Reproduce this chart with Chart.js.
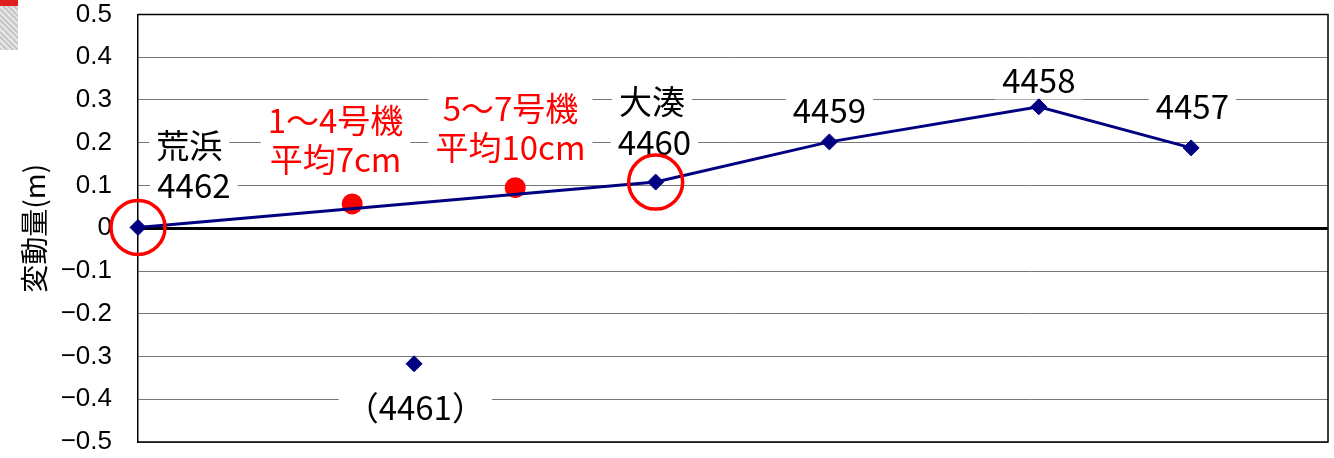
<!DOCTYPE html>
<html>
<head>
<meta charset="utf-8">
<script src="https://cdn.jsdelivr.net/npm/chart.js@4/dist/chart.umd.min.js"></script>
<style>
  body { margin: 0; background: #fff; }
  #wrap { position: relative; width: 1334px; height: 458px; }
  #scrap { position: absolute; left: 0; top: 0; width: 18px; height: 50px;
           background: repeating-linear-gradient(45deg, #c8c8c8 0 2px, #e6e6e6 2px 4px);
           border-top: 6px solid #e02020; box-sizing: border-box; }
</style>
</head>
<body>
<div id="wrap">
  <canvas id="chart" width="1334" height="458"></canvas>
  <div id="scrap"></div>
</div>
<script>
// distance along the survey line (chart units, 0 = 荒浜)
const stations = ['4462', '4460', '4459', '4458', '4457'];
const stationX = [0, 43.5, 58.1, 75.7, 88.5];
const stationY = [0.002, 0.108, 0.202, 0.284, 0.188];

// 4461 is plotted on its own (not on the line)
const outlierX = [23.2];
const outlierY = [-0.317];

// reactor averages (red dots)
const reactorX = [18.0, 31.7];
const reactorY = [0.057, 0.095];

// circled stations: 荒浜 (4462) and 大湊 (4460)
const circleX = [0, 43.5];
const circleY = [0.002, 0.108];

const yTicks = [0.5, 0.4, 0.3, 0.2, 0.1, 0, -0.1, -0.2, -0.3, -0.4, -0.5];

// text labels: [lines, x, y, colour]
const labels = [
  [['荒浜'], 4.3, 0.195, '#000'],
  [['4462'], 4.7, 0.102, '#000'],
  [['1～4号機', '平均7cm'], 16.6, 0.208, '#ff0000'],
  [['5～7号機', '平均10cm'], 31.3, 0.237, '#ff0000'],
  [['大湊'], 43.2, 0.298, '#000'],
  [['4460'], 43.4, 0.202, '#000'],
  [['4459'], 58.1, 0.277, '#000'],
  [['4458'], 75.7, 0.347, '#000'],
  [['4457'], 88.6, 0.287, '#000'],
  [['（4461）'], 23.3, -0.417, '#000']
];

const pts = (xs, ys) => xs.map((x, i) => ({ x: x, y: ys[i] }));

const labelFont = '33px "Noto Sans CJK JP"';
const labelPlugin = {
  id: 'labelBoxes',
  beforeDatasetsDraw(chart) {
    const { ctx, scales: { x, y } } = chart;
    ctx.save();
    ctx.font = labelFont;
    ctx.textAlign = 'center';
    ctx.textBaseline = 'middle';
    labels.forEach(([lines, lx, ly, color]) => {
      const cx = x.getPixelForValue(lx);
      const cy = y.getPixelForValue(ly);
      const lh = 39;
      const w = Math.max(...lines.map(t => ctx.measureText(t).width)) + 14;
      const h = lines.length * lh;
      ctx.fillStyle = '#fff';
      ctx.fillRect(cx - w / 2, cy - h / 2, w, h);
      ctx.fillStyle = color;
      lines.forEach((t, i) => {
        ctx.fillText(t, cx, cy - h / 2 + lh / 2 + i * lh + 1);
      });
    });
    ctx.restore();
  },
  afterDraw(chart) {
    const { ctx, chartArea: a } = chart;
    ctx.save();
    ctx.strokeStyle = '#000';
    ctx.lineWidth = 1.5;
    ctx.beginPath();
    ctx.moveTo(a.left, a.top);
    ctx.lineTo(a.right, a.top);
    ctx.lineTo(a.right, a.bottom);
    ctx.lineTo(a.left, a.bottom);
    ctx.stroke();
    ctx.restore();
  }
};

new Chart(document.getElementById('chart'), {
  type: 'scatter',
  data: {
    datasets: [
      {
        data: pts(circleX, circleY),
        pointStyle: 'circle', pointRadius: 27, pointBorderWidth: 3.5,
        pointBorderColor: '#ff0000', pointBackgroundColor: 'rgba(0,0,0,0)',
        showLine: false, clip: false
      },
      {
        data: pts(stationX, stationY),
        showLine: true, borderColor: '#000080', borderWidth: 3,
        pointStyle: 'rectRot', pointRadius: 8, pointBorderWidth: 1,
        pointBackgroundColor: '#000080', pointBorderColor: '#000080', clip: false
      },
      {
        data: pts(outlierX, outlierY),
        showLine: false,
        pointStyle: 'rectRot', pointRadius: 8, pointBorderWidth: 1,
        pointBackgroundColor: '#000080', pointBorderColor: '#000080'
      },
      {
        data: pts(reactorX, reactorY),
        showLine: false,
        pointStyle: 'circle', pointRadius: 10.5, pointBorderWidth: 0,
        pointBackgroundColor: '#ff0000'
      }
    ]
  },
  options: {
    responsive: false,
    animation: false,
    events: [],
    layout: { autoPadding: false, padding: { top: 14.5, right: 6, bottom: 16, left: 0 } },
    plugins: { legend: { display: false }, tooltip: { enabled: false } },
    scales: {
      x: { type: 'linear', min: 0, max: 100, display: false },
      y: {
        min: -0.5, max: 0.5,
        afterFit: s => {
          s.width = 138;
          s.paddingTop = 0; s.paddingBottom = 0;
          s.paddingLeft = 0; s.paddingRight = 0;
        },
        afterBuildTicks: s => { s.ticks = yTicks.map(v => ({ value: v })); },
        border: { color: '#000', width: 1.5 },
        grid: {
          drawTicks: false,
          color: c => c.tick.value === 0 ? '#000' : '#777',
          lineWidth: c => c.tick.value === 0 ? 3 : 1
        },
        ticks: {
          padding: 26,
          color: '#000',
          font: { family: '"Liberation Sans", Arial', size: 26 },
          callback: v => v === 0 ? '0' : v.toFixed(1).replace('-', '−')
        },
        title: {
          display: true, text: '変動量(m)', color: '#000',
          font: { family: '"Noto Sans CJK JP"', size: 28 },
          padding: { top: 18, bottom: 0 }
        }
      }
    }
  },
  plugins: [labelPlugin]
});
</script>
</body>
</html>
